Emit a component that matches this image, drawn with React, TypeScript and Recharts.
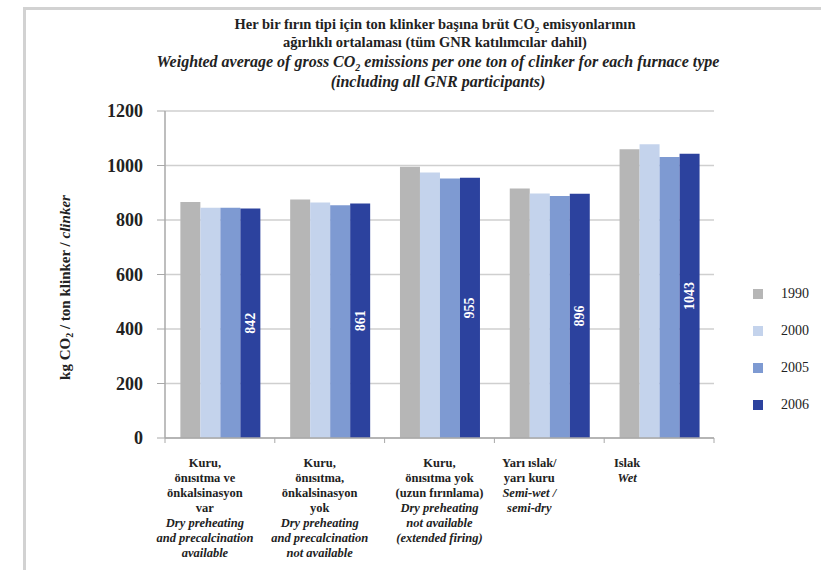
import React from 'react';
import { BarChart, Bar, XAxis, YAxis, CartesianGrid, Legend, LabelList, Label } from 'recharts';

// furnace types (x categories)
const furnaceTypes = ['Kuru, önkalsinasyon var', 'Kuru, önkalsinasyon yok', 'Kuru, önısıtma yok', 'Yarı ıslak', 'Islak'];

const labelTr = [
  ['Kuru,', 'önısıtma ve', 'önkalsinasyon', 'var'],
  ['Kuru,', 'önısıtma,', 'önkalsinasyon', 'yok'],
  ['Kuru,', 'önısıtma yok', '(uzun fırınlama)'],
  ['Yarı ıslak/', 'yarı kuru'],
  ['Islak'],
];
const labelEn = [
  ['Dry preheating', 'and precalcination', 'available'],
  ['Dry preheating', 'and precalcination', 'not available'],
  ['Dry preheating', 'not available', '(extended firing)'],
  ['Semi-wet /', 'semi-dry'],
  ['Wet'],
];

const years = ['1990', '2000', '2005', '2006'];
const values1990 = [866, 875, 995, 916, 1060];
const values2000 = [845, 864, 974, 897, 1078];
const values2005 = [845, 854, 952, 888, 1031];
const values2006 = [842, 861, 955, 896, 1043];

const yTicks = [0, 200, 400, 600, 800, 1000, 1200];

const colors = ['#b6b6b6', '#c4d3ec', '#7e9ad2', '#2c429e'];

const data = furnaceTypes.map((name, i) => ({
  name,
  y1990: values1990[i],
  y2000: values2000[i],
  y2005: values2005[i],
  y2006: values2006[i],
}));

const FONT = '"Liberation Serif", "Times New Roman", serif';
// labels sit a little left of the band centre
const labelShift = [-15, -10, 0, -20, -32];

const CategoryTick = (props: any) => {
  const { x, y, payload, index } = props;
  const half = payload.offset ?? 0;
  const tr = labelTr[index] || [];
  const en = labelEn[index] || [];
  const cx = x + labelShift[index];
  return (
    <g>
      <line x1={x - half} x2={x - half} y1={y} y2={y + 5} stroke="#a8a8a8" />
      {index === furnaceTypes.length - 1 && (
        <line x1={x + half} x2={x + half} y1={y} y2={y + 5} stroke="#a8a8a8" />
      )}
      <text x={cx} y={y + 29} textAnchor="middle" fontFamily={FONT} fontSize={12.5} fontWeight="bold" fill="#222">
        {tr.map((t, i) => (
          <tspan key={'t' + i} x={cx} dy={i === 0 ? 0 : 15}>{t}</tspan>
        ))}
        {en.map((t, i) => (
          <tspan key={'e' + i} x={cx} dy={15} fontStyle="italic">{t}</tspan>
        ))}
      </text>
    </g>
  );
};

const ValueLabel = (props: any) => {
  const { x, y, width, height, value } = props;
  const cx = x + width / 2;
  const cy = y + height / 2;
  return (
    <text
      x={cx}
      y={cy}
      transform={`rotate(-90 ${cx} ${cy})`}
      textAnchor="middle"
      dominantBaseline="central"
      fontFamily={FONT}
      fontWeight="bold"
      fontSize={14}
      fill="#ffffff"
    >
      {value}
    </text>
  );
};

const YTitle = (props: any) => {
  const { viewBox } = props;
  const cx = 65;
  const cy = viewBox.y + viewBox.height / 2 + 13;
  return (
    <text
      x={cx}
      y={cy}
      transform={`rotate(-90 ${cx} ${cy})`}
      textAnchor="middle"
      dominantBaseline="central"
      fontFamily={FONT}
      fontWeight="bold"
      fontSize={15}
      fill="#222"
    >
      kg CO<tspan fontSize={10} dy={4}>2</tspan>
      <tspan dy={-4}> / ton klinker / </tspan>
      <tspan fontStyle="italic">clinker</tspan>
    </text>
  );
};

const renderLegend = () => (
  <div style={{ fontFamily: FONT, fontSize: 14, color: '#222' }}>
    {years.map((yr, i) => (
      <div key={yr} style={{ display: 'flex', alignItems: 'center', height: 37 }}>
        <span style={{ display: 'inline-block', width: 10, height: 10, background: colors[i], marginRight: 18 }} />
        {yr}
      </div>
    ))}
  </div>
);

const titleLine: React.CSSProperties = {
  position: 'absolute',
  left: 0,
  width: 870,
  textAlign: 'center',
  fontFamily: FONT,
  color: '#222',
  fontWeight: 'bold',
  whiteSpace: 'nowrap',
};

export default function App() {
  return (
    <div style={{ position: 'absolute', left: 0, top: 0, width: 821, height: 570, background: '#fff', overflow: 'hidden' }}>
      <div
        style={{
          position: 'absolute',
          left: 23,
          top: 7,
          width: 820,
          height: 570,
          borderLeft: '3px solid #d2d2d2',
          borderTop: '3px solid #d2d2d2',
        }}
      />
      <div style={{ ...titleLine, top: 16, fontSize: 14.5 }}>
        Her bir fırın tipi için ton klinker başına brüt CO<sub style={{ fontSize: 9 }}>2</sub> emisyonlarının
      </div>
      <div style={{ ...titleLine, top: 34, fontSize: 14.5 }}>ağırlıklı ortalaması (tüm GNR katılımcılar dahil)</div>
      <div style={{ ...titleLine, top: 53, fontSize: 16, fontStyle: 'italic', width: 876 }}>
        Weighted average of gross CO<sub style={{ fontSize: 10 }}>2</sub> emissions per one ton of clinker for each furnace type
      </div>
      <div style={{ ...titleLine, top: 73, fontSize: 16, fontStyle: 'italic', width: 876 }}>(including all GNR participants)</div>

      <div style={{ position: 'absolute', left: 0, top: 0 }}>
        <BarChart
          width={821}
          height={570}
          data={data}
          margin={{ top: 111, right: 107, bottom: 102, left: 0 }}
          barCategoryGap="14%"
          barGap={0}
        >
          <CartesianGrid vertical={false} stroke="#cfcfcf" strokeWidth={1.5} />
          <XAxis
            dataKey="name"
            height={30}
            tick={<CategoryTick />}
            tickLine={false}
            tickSize={0}
            tickMargin={0}
            interval={0}
            axisLine={{ stroke: '#a8a8a8', strokeWidth: 1.5 }}
          />
          <YAxis
            width={165}
            domain={[0, 1200]}
            ticks={yTicks}
            interval={0}
            tickSize={8}
            tickMargin={14}
            tickLine={{ stroke: '#a8a8a8' }}
            axisLine={{ stroke: '#a8a8a8', strokeWidth: 1.5 }}
            tick={{ fontFamily: FONT, fontSize: 18, fontWeight: 'bold', fill: '#222' }}
          >
            <Label content={<YTitle />} />
          </YAxis>
          <Legend
            layout="vertical"
            align="center"
            verticalAlign="middle"
            content={renderLegend}
            wrapperStyle={{ left: 753, top: 275, width: 70, right: 'auto', bottom: 'auto' }}
          />
          <Bar dataKey="y1990" name="1990" fill={colors[0]} isAnimationActive={false} />
          <Bar dataKey="y2000" name="2000" fill={colors[1]} isAnimationActive={false} />
          <Bar dataKey="y2005" name="2005" fill={colors[2]} isAnimationActive={false} />
          <Bar dataKey="y2006" name="2006" fill={colors[3]} isAnimationActive={false}>
            <LabelList dataKey="y2006" content={<ValueLabel />} />
          </Bar>
        </BarChart>
      </div>
    </div>
  );
}
